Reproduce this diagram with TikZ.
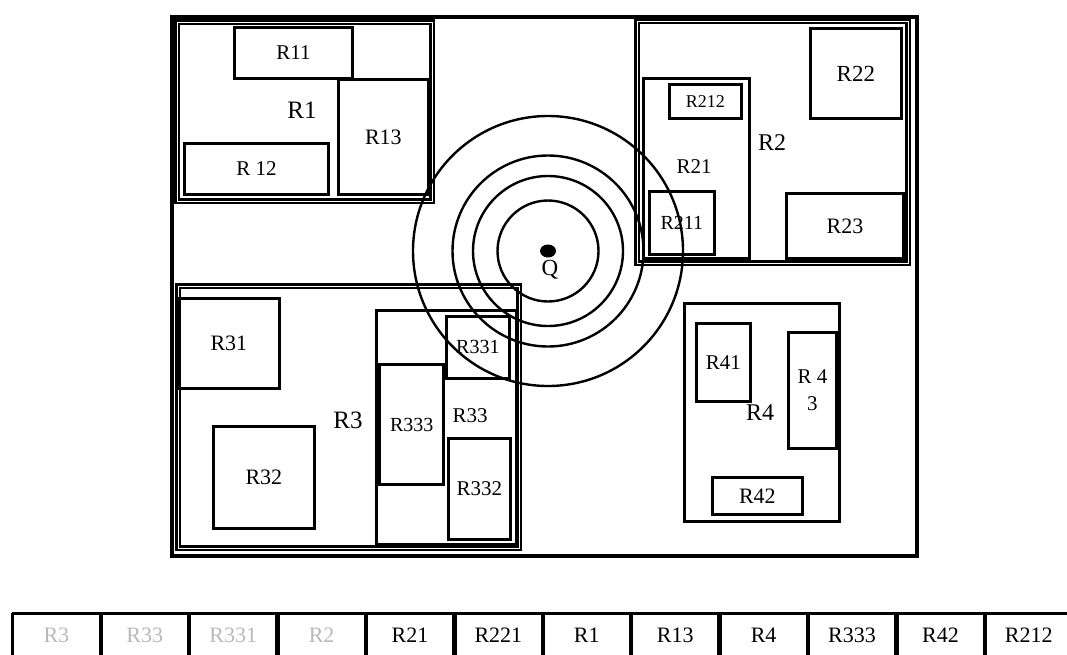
\documentclass[tikz,border=0pt]{standalone}
\usepackage{fontspec}
\setmainfont{Liberation Serif}
\begin{document}
\begin{tikzpicture}[x=1pt,y=-1pt,
  box/.style={draw,line width=2.8pt,inner sep=0pt,anchor=north west,font=\fontsize{21}{21}\selectfont},
  region/.style={draw,double,line width=2.1pt,double distance=1.1pt,inner sep=0pt,anchor=north west},
  lab/.style={inner sep=0pt,font=\fontsize{25}{25}\selectfont},
  ring/.style={line width=2.4pt},
  celltext/.style={inner sep=0pt,anchor=north west,minimum width=88.4pt,minimum height=44pt,font=\fontsize{22}{22}\selectfont},
  sep/.style={line width=4.5pt}]
\useasboundingbox (0,0) rectangle (1067,654);

% outer frame
\node[draw,line width=3.5pt,inner sep=0pt,anchor=north west,minimum width=745pt,minimum height=539pt] (frame) at (170,15) {};

% R1
\node[region,minimum width=255pt,minimum height=179pt] (r1) at (176,21) {};
\node[box,minimum width=118pt,minimum height=51pt] (r11) at (233,26) {R11};
\node[box,minimum width=90pt,minimum height=115pt,font=\fontsize{22}{22}\selectfont] (r13) at (337,78) {R13};
\node[box,minimum width=144pt,minimum height=51pt] (r12) at (183,142) {R 12};
\node[lab] (l1) at (302,110) {R1};

% R2
\node[region,minimum width=271pt,minimum height=242pt] (r2) at (636,20) {};
\node[box,minimum width=106pt,minimum height=180pt] (r21) at (642,77) {};
\node[box,minimum width=72pt,minimum height=34pt,font=\fontsize{18}{18}\selectfont] (r212) at (668,83) {R212};
\node[box,minimum width=65pt,minimum height=63pt,font=\fontsize{20}{20}\selectfont] (r211) at (648,190) {R211};
\node[box,minimum width=91pt,minimum height=90pt,font=\fontsize{23}{23}\selectfont] (r22) at (809,27) {R22};
\node[box,minimum width=117pt,minimum height=65pt,font=\fontsize{22}{22}\selectfont] (r23) at (785,192) {R23};
\node[lab,font=\fontsize{24}{24}\selectfont] (l2) at (772,143) {R2};
\node[lab,font=\fontsize{21}{21}\selectfont] (l21) at (694,167) {R21};

% R3
\node[region,minimum width=341pt,minimum height=262pt] (r3) at (177,285) {};
\node[box,minimum width=101pt,minimum height=90pt,font=\fontsize{22}{22}\selectfont] (r31) at (177,297) {R31};
\node[box,minimum width=101pt,minimum height=102pt,font=\fontsize{22}{22}\selectfont] (r32) at (212,425) {R32};
\node[box,minimum width=140pt,minimum height=234pt] (r33) at (375,309) {};
\node[box,minimum width=63pt,minimum height=62pt,font=\fontsize{20}{20}\selectfont] (r331) at (445,315) {R331};
\node[box,line width=3.4pt,minimum width=64pt,minimum height=120pt,font=\fontsize{20}{20}\selectfont] (r333) at (378,363) {R333};
\node[box,minimum width=62pt,minimum height=101pt] (r332) at (447,437) {R332};
\node[lab] (l3) at (348,420) {R3};
\node[lab,font=\fontsize{21}{21}\selectfont] (l33) at (470,416) {R33};

% R4
\node[box,minimum width=155pt,minimum height=218pt] (r4) at (683,302) {};
\node[box,minimum width=54pt,minimum height=78pt] (r41) at (695,322) {R41};
\node[box,minimum width=48pt,minimum height=116pt,align=center] (r43) at (787,331) {R 4\\[6pt]3};
\node[box,minimum width=90pt,minimum height=37pt,font=\fontsize{22}{22}\selectfont] (r42) at (711,476) {R42};
\node[lab,font=\fontsize{24}{24}\selectfont] (l4) at (760,413) {R4};

% query point and rings
\coordinate (Q) at (548,251);
\fill (Q) ellipse [x radius=8, y radius=6.5];
\node[lab,font=\fontsize{23}{23}\selectfont] (lq) at (550,270) {Q};
\draw[ring] (Q) circle [radius=50.5];
\draw[ring] (Q) circle [radius=75];
\draw[ring] (Q) circle [radius=95.5];
\draw[ring] (Q) circle [radius=135];

% list table
\foreach \t/\c [count=\i] in {R3/gray!55,R33/gray!55,R331/gray!55,R2/gray!55,R21/black,R221/black,R1/black,R13/black,R4/black,R333/black,R42/black,R212/black}
  \node[celltext,text=\c] (c\i) at ({12+88.4*(\i-1)},613) {\t};
\draw[line width=3pt] (c1.north west) -- (1067,613);
\draw[line width=3pt] (c1.north west) -- ++(0,45);
\foreach \i in {1,...,11}
  \draw[sep] (c\i.north east) -- ++(0,45);
\end{tikzpicture}
\end{document}
